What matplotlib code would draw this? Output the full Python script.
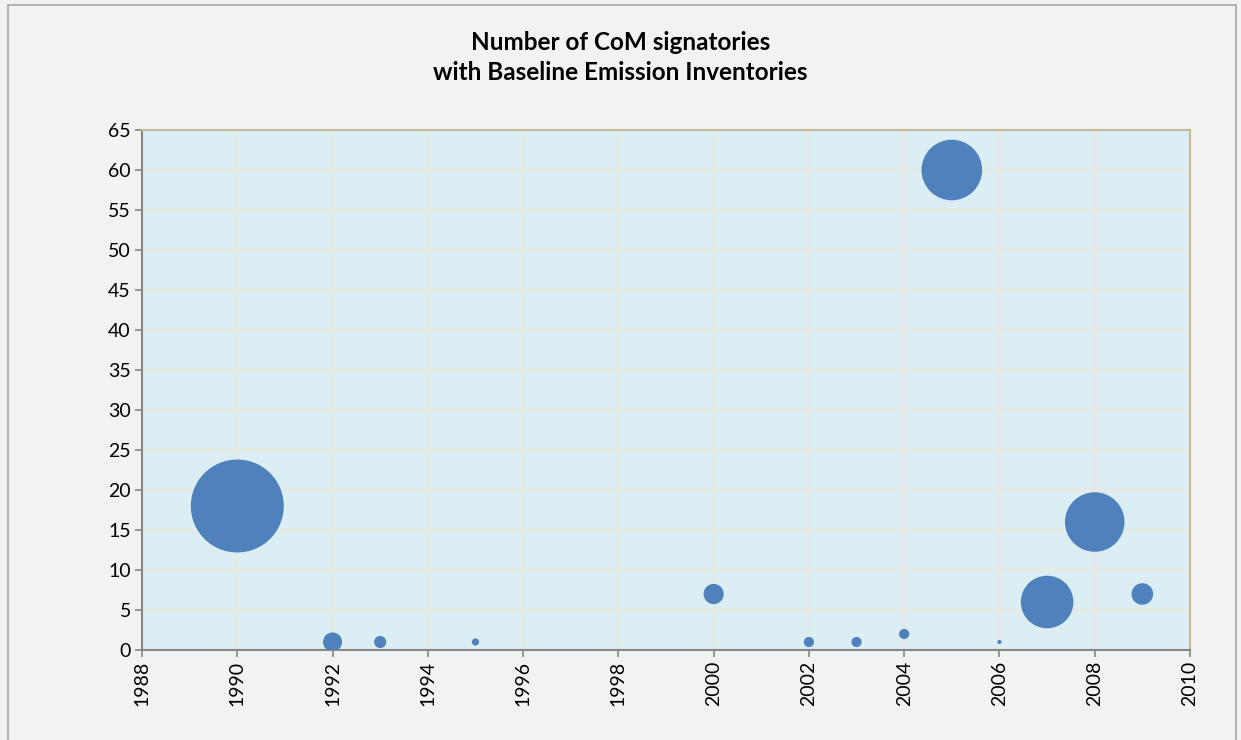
import matplotlib.pyplot as plt
from matplotlib.patches import Rectangle

# data: baseline year, number of signatories, relative bubble size
years = [1990, 1992, 1993, 1995, 2000, 2002, 2003, 2004, 2005, 2006, 2007, 2008, 2009]
signatories = [18, 1, 1, 1, 7, 1, 1, 2, 60, 1, 6, 16, 7]
bubble_size = [100, 4.2, 1.7, 0.6, 4.7, 1.2, 1.2, 1.2, 42.5, 0.2, 32, 41, 5.4]

x_ticks = list(range(1988, 2011, 2))
y_ticks = list(range(0, 66, 5))

plt.rcParams['font.family'] = ['Lato', 'DejaVu Sans']

fig = plt.figure(figsize=(12.41, 7.40), dpi=100, facecolor='#f2f2f2')
ax = fig.add_axes([142 / 1241, 1 - 650 / 740, 1048 / 1241, 520 / 740])
ax.set_facecolor('#dbeef4')

# bubble area proportional to size value
scale = 44.8
ax.scatter(years, signatories, s=[b * scale for b in bubble_size],
           color='#4f81bd', edgecolors='none', zorder=3)

ax.set_xlim(1988, 2010)
ax.set_ylim(0, 65)
ax.set_xticks(x_ticks)
ax.set_yticks(y_ticks)
ax.set_xticklabels([str(t) for t in x_ticks], rotation=90, fontsize=14)
ax.set_yticklabels([str(t) for t in y_ticks], fontsize=14)
ax.grid(True, color='#ede8dc', linewidth=1.5, zorder=0)
ax.set_axisbelow(True)

for side in ['top', 'right']:
    ax.spines[side].set_color('#c4bd97')
    ax.spines[side].set_linewidth(1.5)
for side in ['left', 'bottom']:
    ax.spines[side].set_color('#868686')
    ax.spines[side].set_linewidth(1.5)
ax.tick_params(axis='both', direction='out', length=5, width=1.2, color='#868686',
               labelcolor='black', pad=3)

fig.text(0.5, 1 - 42 / 740, 'Number of CoM signatories', ha='center', va='center',
         fontsize=17.5, fontweight='bold')
fig.text(0.5, 1 - 73 / 740, 'with Baseline Emission Inventories', ha='center', va='center',
         fontsize=17.5, fontweight='bold')

# outer chart border
fig.patches.append(Rectangle((8 / 1241, -0.05), 1228 / 1241, 1.05 - 5 / 740,
                             transform=fig.transFigure, fill=False,
                             edgecolor='#a6a6a6', linewidth=1.2))

fig.savefig('out.png', dpi=100, facecolor=fig.get_facecolor())
